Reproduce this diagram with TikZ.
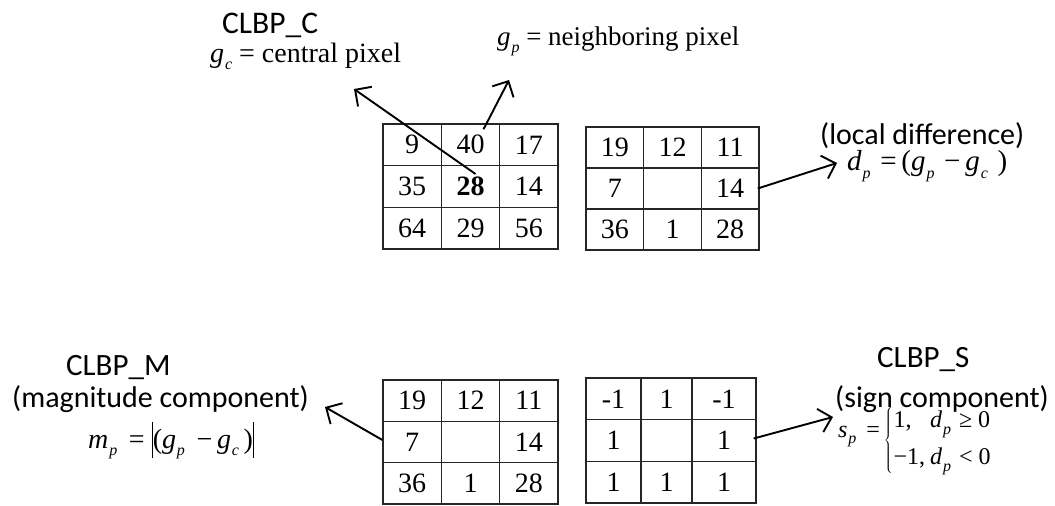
\documentclass[tikz,border=0pt]{standalone}
\usepackage{fontspec}
\setmainfont{Liberation Serif}
\newfontfamily\sansf{Carlito}
\usetikzlibrary{arrows.meta,matrix}
\newcommand\iv[2]{\textit{#1}\kern0.03em\raisebox{-0.28em}{\fontsize{16}{16}\selectfont\textit{#2}}}
\newcommand\absbar{\raisebox{-10pt}{\rule{1.1pt}{36pt}}}
\tikzset{
  gridm/.style={matrix of nodes, nodes in empty cells,
    column sep=-1.3pt, row sep=-1.3pt, inner sep=0pt,
    nodes={draw=black!85, line width=1.3pt, inner sep=0pt, anchor=center,
      minimum width=#1, font=\fontsize{28}{28}\selectfont}},
  arr/.style={-{Straight Barb[length=12pt,width=24pt,line width=1.9pt]}, line width=1.9pt},
  sanstxt/.style={anchor=base west, inner sep=0pt, font=\sansf\fontsize{30}{30}\selectfont},
  sertxt/.style={anchor=base west, inner sep=0pt, font=\fontsize{28}{28}\selectfont},
}
\begin{document}
\begin{tikzpicture}[x=1pt,y=-1pt]
\useasboundingbox[fill=white] (0,0) rectangle (1055,506);

% grids
\matrix (g1) [gridm=58.3pt, nodes={minimum height=41.7pt}] at (470.5,186.5)
  {9 & 40 & 17\\ 35 & \textbf{28} & 14\\ 64 & 29 & 56\\};
\matrix (g2) [gridm=57.7pt, nodes={minimum height=41pt}] at (672.5,188.5)
  {19 & 12 & 11\\ 7 & & 14\\ 36 & 1 & 28\\};
\matrix (g3) [gridm=58.3pt, nodes={minimum height=41.3pt}] at (470.5,442)
  {19 & 12 & 11\\ 7 & & 14\\ 36 & 1 & 28\\};
\matrix (g4) [gridm=55pt, nodes={minimum height=41.7pt},
  column 2/.style={nodes={minimum width=51pt}},
  column 3/.style={nodes={minimum width=64pt}}] at (671,440.5)
  {-1 & 1 & -1\\ 1 & & 1\\ 1 & 1 & 1\\};

% texts
\node[sanstxt, font=\sansf\fontsize{31.5}{31.5}\selectfont] (clbpc) at (222,33) {CLBP\_C};
\node[sertxt] (gc) at (210,62) {\iv{g}{c} = central pixel};
\node[sertxt, font=\fontsize{27}{27}\selectfont] (gp) at (497,45) {\iv{g}{p} = neighboring pixel};
\node[sanstxt] (locd) at (820,144) {(local difference)};
\node[sertxt, font=\fontsize{29}{29}\selectfont] (dp) at (847,170)
  {\iv{d}{p}\,\,=\,(\iv{g}{p}\,\,−\,\iv{g}{c}\,\,)};

\node[sanstxt, font=\sansf\fontsize{31}{31}\selectfont] (clbpm) at (66,375) {CLBP\_M};
\node[sanstxt] (magc) at (12,407) {(magnitude component)};
\node[sertxt] (mp) at (88,448) {\iv{m}{p}\, = \absbar(\iv{g}{p}\, −\,\iv{g}{c}\,)\absbar};

\node[sanstxt, font=\sansf\fontsize{31}{31}\selectfont] (clbps) at (877,367) {CLBP\_S};
\node[sanstxt] (signc) at (835,407) {(sign component)};
\node[anchor=base west, inner sep=0pt, font=\fontsize{24}{30}\selectfont] (sp) at (838,437)
  {\iv{s}{p}\, =\,\raisebox{-10pt}{$\left\{\begin{tabular}{@{\kern1pt}l@{\kern5pt}l@{\kern8pt}l@{}}1, & \iv{d}{p} & ≥ 0\\[7pt] −1, & \iv{d}{p} & < 0\end{tabular}\right.$}};

% arrow tips
\coordinate (c1) at (354,89);
\coordinate (c2) at (509,80);
\coordinate (c3) at (837,163);
\coordinate (c4) at (325,407);
\coordinate (c5) at (833,417);

\draw[arr] ([xshift=5pt,yshift=-9pt]g1-2-2.north) -- (c1);
\draw[arr] ([xshift=13pt,yshift=-6pt]g1-1-2.north) -- (c2);
\draw[arr] ([xshift=-2pt]g2-2-3.east) -- (c3);
\draw[arr] ([yshift=2pt]g3-2-1.west) -- (c4);
\draw[arr] ([xshift=-3pt,yshift=2pt]g4-2-3.east) -- (c5);
\end{tikzpicture}
\end{document}
